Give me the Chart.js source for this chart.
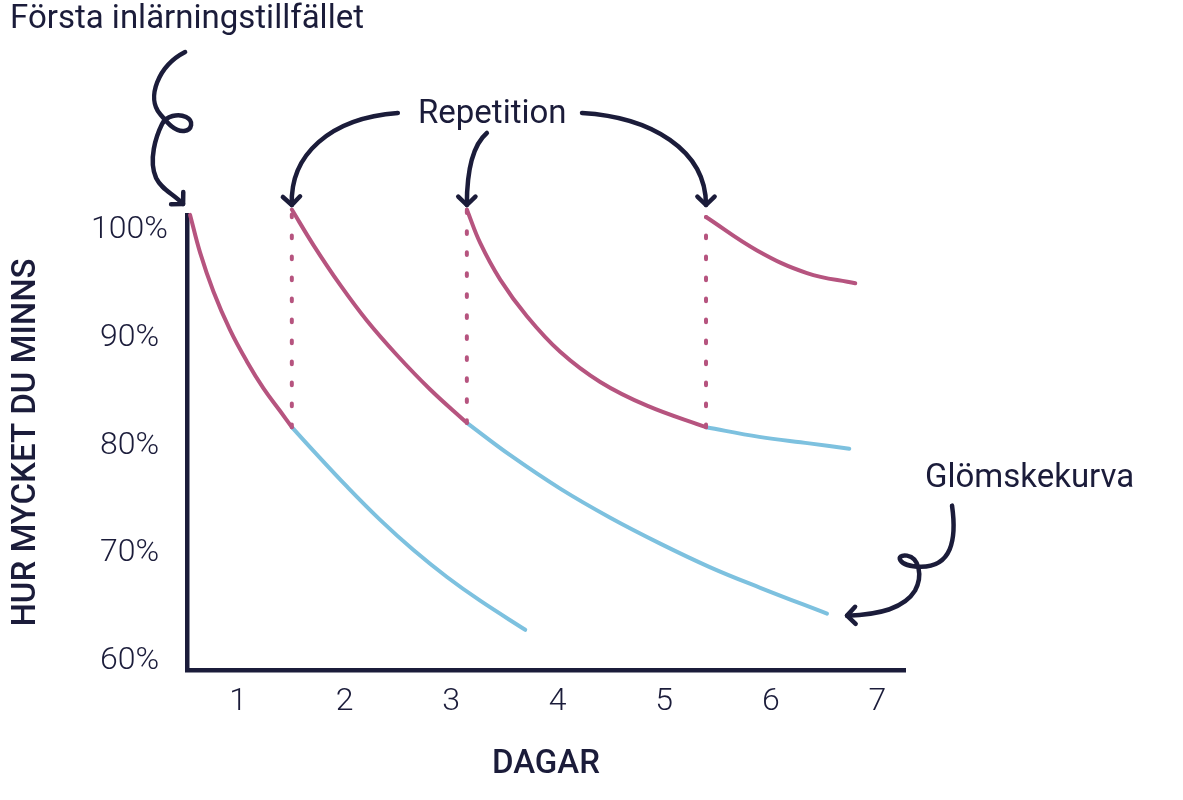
<!DOCTYPE html>
<html>
<head>
<meta charset="utf-8">
<title>Glömskekurva</title>
<script src="https://cdn.jsdelivr.net/npm/chart.js"></script>
<style>
  body { margin: 0; background: #fff; }
  #wrap { width: 1183px; height: 800px; }
</style>
</head>
<body>
<div id="wrap"><canvas id="curveChart" width="1183" height="800"></canvas></div>
<script>
// axlar
const xTicks = [1, 2, 3, 4, 5, 6, 7];
const yTicks = [60, 70, 80, 90, 100];

// första inlärningen och repetitionerna (rosa)
const learn1X = [0.549, 0.643, 0.768, 0.925, 1.082, 1.238, 1.394, 1.504];
const learn1Y = [101.4, 97.9, 94.3, 90.7, 87.8, 85.3, 83.2, 81.7];
const rep1X = [1.504, 1.707, 1.958, 2.208, 2.490, 2.803, 3.147];
const rep1Y = [101.9, 98.6, 94.9, 91.6, 88.4, 85.2, 82.1];
const rep2X = [3.147, 3.272, 3.460, 3.711, 4.023, 4.399, 4.838, 5.392];
const rep2Y = [101.9, 98.8, 95.4, 92.0, 88.7, 85.9, 83.7, 81.7];
const rep3X = [5.392, 5.871, 6.340, 6.793];
const rep3Y = [101.2, 98.1, 96.0, 95.05];

// glömskekurvor utan repetition (blå)
const forget1X = [1.504, 1.707, 2.020, 2.333, 2.646, 2.960, 3.272, 3.695];
const forget1Y = [81.7, 79.5, 76.2, 73.1, 70.3, 67.8, 65.6, 62.9];
const forget2X = [3.147, 3.554, 4.023, 4.493, 4.962, 5.432, 5.901, 6.528];
const forget2Y = [82.1, 79.1, 76.0, 73.3, 70.9, 68.7, 66.8, 64.4];
const forget3X = [5.392, 5.892, 6.362, 6.737];
const forget3Y = [81.7, 80.8, 80.2, 79.7];

const pink = '#b6547f';
const blue = '#7dc1df';
const navy = '#1b1c3a';

function pts(xs, ys) {
    return xs.map((x, i) => ({ x: x, y: ys[i] }));
}
function first(xs, ys) { return { x: xs[0], y: ys[0] }; }
function last(xs, ys) { return { x: xs[xs.length - 1], y: ys[ys.length - 1] }; }

function curve(xs, ys, color) {
    return {
        data: pts(xs, ys),
        borderColor: color,
        borderWidth: 4,
        borderCapStyle: 'round',
        borderJoinStyle: 'round',
        pointRadius: 0,
        tension: 0.4,
        clip: false
    };
}
function dotted(a, b) {
    return {
        data: [a, b],
        borderColor: pink,
        borderWidth: 4,
        borderCapStyle: 'round',
        borderDash: [2.7, 18.3],
        pointRadius: 0,
        clip: false
    };
}

const datasets = [
    curve(learn1X, learn1Y, pink),
    curve(rep1X, rep1Y, pink),
    curve(rep2X, rep2Y, pink),
    curve(rep3X, rep3Y, pink),
    dotted(last(learn1X, learn1Y), first(rep1X, rep1Y)),
    dotted(last(rep1X, rep1Y), first(rep2X, rep2Y)),
    dotted(last(rep2X, rep2Y), first(rep3X, rep3Y)),
    curve(forget1X, forget1Y, blue),
    curve(forget2X, forget2Y, blue),
    curve(forget3X, forget3Y, blue)
];

// pilar och texter
function arrowHead(ctx, dirX, dirY) {
    const a = Math.atan2(dirY, dirX);
    const len = 12;
    ctx.beginPath();
    ctx.moveTo(-len * Math.cos(a - 0.8), -len * Math.sin(a - 0.8));
    ctx.lineTo(0, 0);
    ctx.lineTo(-len * Math.cos(a + 0.8), -len * Math.sin(a + 0.8));
    ctx.stroke();
}

function arrow(ctx, tx, ty, path) {
    ctx.save();
    ctx.translate(tx, ty);
    ctx.beginPath();
    ctx.moveTo(path[0][0], path[0][1]);
    for (let i = 1; i < path.length; i++) {
        const c = path[i];
        ctx.bezierCurveTo(c[0], c[1], c[2], c[3], c[4], c[5]);
    }
    ctx.stroke();
    const lastC = path[path.length - 1];
    arrowHead(ctx, -lastC[2], -lastC[3]);
    ctx.restore();
}

const annotations = {
    id: 'annotations',
    afterDraw(chart) {
        const ctx = chart.ctx;
        const x = chart.scales.x;
        const y = chart.scales.y;
        const top = chart.chartArea.top;

        ctx.save();
        ctx.strokeStyle = navy;
        ctx.lineWidth = 4.5;
        ctx.lineCap = 'round';
        ctx.lineJoin = 'round';

        // Första inlärningstillfället, med ögla
        arrow(ctx, x.getPixelForValue(learn1X[0]) - 7, top - 11, [
            [2, -152],
            [-25, -138, -37, -106, -23, -90],
            [-17, -83, -9, -72, 1, -73],
            [9, -74, 11, -83, 3, -87],
            [-5, -91, -17, -88, -21, -80],
            [-27, -68, -35, -44, -27, -26],
            [-21, -14, -11, -11, 0, 0]
        ]);
        // Repetition
        arrow(ctx, x.getPixelForValue(rep1X[0]), top - 10, [
            [106, -92],
            [38, -87, -2, -50, 0, 0]
        ]);
        arrow(ctx, x.getPixelForValue(rep2X[0]), top - 10, [
            [20, -72],
            [6, -60, 0, -35, 0, 0]
        ]);
        arrow(ctx, x.getPixelForValue(rep3X[0]), top - 10, [
            [-124, -92],
            [-55, -88, 0, -55, 0, 0]
        ]);
        // Glömskekurva
        const end = last(forget2X, forget2Y);
        arrow(ctx, x.getPixelForValue(end.x) + 20, y.getPixelForValue(end.y) + 2, [
            [105, -110],
            [110, -75, 104, -49, 74, -49],
            [50, -49, 48, -62, 60, -60],
            [72, -58, 76, -40, 68, -25],
            [57, -7, 32, -1, 0, 0]
        ]);

        ctx.fillStyle = navy;
        ctx.font = '400 33px Roboto';
        ctx.textAlign = 'left';
        ctx.textBaseline = 'alphabetic';
        ctx.fillText('Första inlärningstillfället', 10, 28);
        ctx.fillText('Repetition', 418, 123);
        ctx.fillText('Glömskekurva', 925, 487);
        ctx.restore();
    }
};

new Chart(document.getElementById('curveChart').getContext('2d'), {
    type: 'line',
    data: { datasets: datasets },
    options: {
        responsive: false,
        animation: false,
        events: [],
        font: { family: 'Roboto' },
        layout: { padding: { top: 215, right: 278, bottom: 0, left: 0 } },
        plugins: {
            legend: { display: false },
            tooltip: { enabled: false }
        },
        scales: {
            x: {
                type: 'linear',
                min: 0.52,
                max: 7.26,
                afterBuildTicks: s => { s.ticks = xTicks.map(v => ({ value: v })); },
                afterFit: s => { s.height = 130; },
                grid: { display: false, drawTicks: false },
                border: { display: true, color: navy, width: 4.5 },
                ticks: {
                    padding: 13,
                    color: navy,
                    font: { family: 'Roboto', size: 32, weight: 300 }
                },
                title: {
                    display: true,
                    text: 'DAGAR',
                    color: navy,
                    font: { family: 'Roboto', size: 33, weight: 500 },
                    padding: { top: 0, bottom: 15 }
                }
            },
            y: {
                type: 'linear',
                min: 59.17,
                max: 101.39,
                afterBuildTicks: s => { s.ticks = yTicks.map(v => ({ value: v })); },
                afterFit: s => { s.width = 187; },
                grid: { display: false, drawTicks: false },
                border: { display: true, color: navy, width: 4.5 },
                ticks: {
                    padding: 19,
                    crossAlign: 'center',
                    color: navy,
                    font: { family: 'Roboto', size: 32, weight: 300 },
                    callback: v => v + '%'
                },
                title: {
                    display: true,
                    text: 'HUR MYCKET DU MINNS',
                    color: navy,
                    font: { family: 'Roboto', size: 33, weight: 500 },
                    padding: { top: 7, bottom: 0 }
                }
            }
        }
    },
    plugins: [annotations]
});
</script>
</body>
</html>
